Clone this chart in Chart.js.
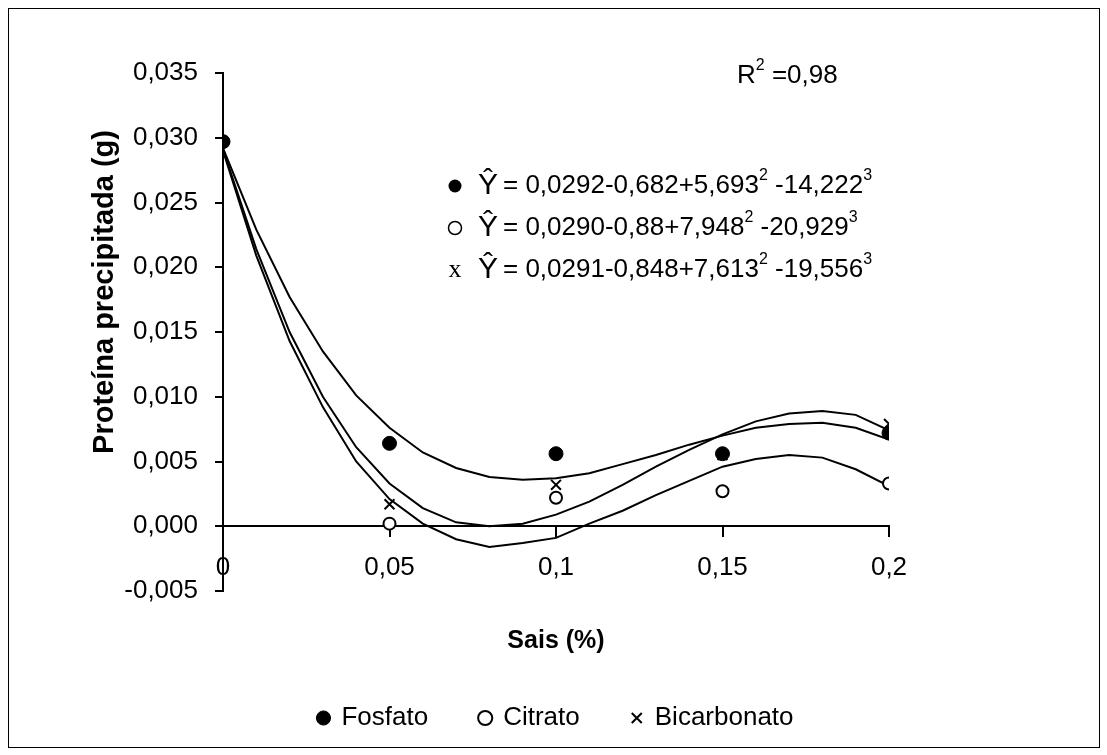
<!DOCTYPE html>
<html>
<head>
<meta charset="utf-8">
<script src="https://cdn.jsdelivr.net/npm/chart.js@4.4.0/dist/chart.umd.min.js"></script>
<style>
  body { margin: 0; background: #fff; }
  #frame { position: absolute; left: 8px; top: 8px; width: 1090px; height: 738px; border: 1px solid #000; }
</style>
</head>
<body>
<div id="frame"><canvas id="proteinChart" width="1090" height="738"></canvas></div>
<script>
const FONT = '"Liberation Sans", Arial, sans-serif';

// measured points
const saisX = [0, 0.05, 0.1, 0.15, 0.2];
const fosfato = [0.0297, 0.0064, 0.0056, 0.0056, 0.0072];
const citrato = [0.0297, 0.0002, 0.0022, 0.0027, 0.0033];
const bicarbonato = [0.0297, 0.0017, 0.0032, 0.0055, 0.0079];

// fitted curves, sampled every 0.01
const curveX = [0, 0.01, 0.02, 0.03, 0.04, 0.05, 0.06, 0.07, 0.08, 0.09, 0.1,
  0.11, 0.12, 0.13, 0.14, 0.15, 0.16, 0.17, 0.18, 0.19, 0.2];
const fosfatoFit = [0.0292, 0.0229, 0.0177, 0.0135, 0.0101, 0.0076, 0.0057, 0.0045, 0.0038, 0.0036, 0.0037,
  0.0041, 0.0048, 0.0055, 0.0063, 0.0070, 0.0076, 0.0079, 0.0080, 0.0076, 0.0067];
const citratoFit = [0.0290, 0.0209, 0.0143, 0.0092, 0.0050, 0.0021, 0.0002, -0.0010, -0.0016, -0.0013, -0.0009,
  0.0002, 0.0012, 0.0024, 0.0035, 0.0046, 0.0052, 0.0055, 0.0053, 0.0044, 0.0031];
const bicarbonatoFit = [0.0291, 0.0214, 0.0150, 0.0100, 0.0061, 0.0033, 0.0014, 0.0003, 0.0000, 0.0002, 0.0009,
  0.0019, 0.0032, 0.0046, 0.0059, 0.0071, 0.0081, 0.0087, 0.0089, 0.0086, 0.0074];

const equations = [
  ['0,0292-0,682+5,693', ' -14,222'],
  ['0,0290-0,88+7,948', ' -20,929'],
  ['0,0291-0,848+7,613', ' -19,556']
];
const r2Text = '0,98';

const toPoints = (xs, ys) => xs.map((x, i) => ({ x, y: ys[i] }));

function fitLine(ys) {
  return {
    data: toPoints(curveX, ys),
    showLine: true,
    borderColor: '#000',
    borderWidth: 2,
    pointRadius: 0,
    tension: 0,
    order: 1
  };
}

// write a run of text pieces, [text, size, raise]
function richText(ctx, x, y, parts) {
  parts.forEach(([txt, size, raise]) => {
    ctx.font = size + 'px ' + FONT;
    ctx.fillText(txt, x, y - (raise || 0));
    x += ctx.measureText(txt).width;
  });
}

const notes = {
  id: 'notes',
  afterDraw(chart) {
    const ctx = chart.ctx;
    ctx.save();
    ctx.fillStyle = '#000';
    ctx.strokeStyle = '#000';
    ctx.textBaseline = 'middle';

    // y axis title
    ctx.save();
    ctx.translate(96, 283);
    ctx.rotate(-Math.PI / 2);
    ctx.textAlign = 'center';
    ctx.font = 'bold 29px ' + FONT;
    ctx.fillText('Proteína precipitada (g)', 0, 0);
    ctx.restore();

    ctx.textAlign = 'left';
    richText(ctx, 728, 67, [['R', 26], ['2', 16, 10], [' =' + r2Text, 26]]);

    equations.forEach((eq, i) => {
      const y = 177 + i * 42;
      if (i === 0) {
        ctx.beginPath(); ctx.arc(446, y, 6.5, 0, Math.PI * 2); ctx.fill();
      } else if (i === 1) {
        ctx.lineWidth = 1.5;
        ctx.beginPath(); ctx.arc(446, y, 6.5, 0, Math.PI * 2); ctx.stroke();
      } else {
        ctx.font = '26px "Liberation Serif", "Times New Roman", serif';
        ctx.textAlign = 'center';
        ctx.fillText('x', 446, y);
        ctx.textAlign = 'left';
      }
      richText(ctx, 469, y, [['Ŷ', 30]]);
      richText(ctx, 494, y, [['= ' + eq[0], 26], ['2', 16, 10], [eq[1], 26], ['3', 16, 10]]);
    });
    ctx.restore();
  }
};

new Chart(document.getElementById('proteinChart'), {
  type: 'scatter',
  data: {
    datasets: [
      { label: 'Fosfato', data: toPoints(saisX, fosfato), pointStyle: 'circle', pointRadius: 7,
        backgroundColor: '#000', borderColor: '#000', borderWidth: 1, order: 0 },
      { label: 'Citrato', data: toPoints(saisX, citrato), pointStyle: 'circle', pointRadius: 6,
        backgroundColor: '#fff', borderColor: '#000', borderWidth: 2, order: 0 },
      { label: 'Bicarbonato', data: toPoints(saisX, bicarbonato), pointStyle: 'crossRot', pointRadius: 7,
        backgroundColor: '#000', borderColor: '#000', borderWidth: 2, order: 0 },
      fitLine(fosfatoFit),
      fitLine(citratoFit),
      fitLine(bicarbonatoFit)
    ]
  },
  options: {
    responsive: false,
    animation: false,
    devicePixelRatio: 1,
    layout: { padding: { left: 94, right: 210, top: 64, bottom: 6 } },
    scales: {
      x: {
        type: 'linear',
        position: { y: 0 },
        min: 0, max: 0.2,
        border: { color: '#000', width: 2 },
        grid: { drawOnChartArea: false, color: '#000', lineWidth: 2, tickLength: 10 },
        ticks: {
          stepSize: 0.05, color: '#000', padding: 16,
          font: { family: FONT, size: 26 },
          callback: v => String(+v.toFixed(2)).replace('.', ',')
        }
      },
      y: {
        min: -0.005, max: 0.035,
        afterFit: s => { s.width = 120; },
        border: { color: '#000', width: 2 },
        grid: { drawOnChartArea: false, color: '#000', lineWidth: 2, tickLength: 8 },
        ticks: {
          stepSize: 0.005, color: '#000', padding: 17,
          font: { family: FONT, size: 26 },
          callback: v => v.toFixed(3).replace('.', ',')
        }
      }
    },
    plugins: {
      tooltip: { enabled: false },
      title: {
        display: true, position: 'bottom', weight: 500, fullSize: false,
        text: 'Sais (%)', color: '#000',
        font: { family: FONT, size: 25, weight: 'bold' },
        padding: { top: 35, bottom: -3 }
      },
      legend: {
        position: 'bottom', fullSize: false,
        labels: {
          filter: item => item.datasetIndex < 3,
          usePointStyle: true, boxWidth: 10, boxHeight: 10,
          color: '#000', padding: 52,
          font: { family: FONT, size: 26 }
        }
      }
    }
  },
  plugins: [notes]
});
</script>
</body>
</html>
